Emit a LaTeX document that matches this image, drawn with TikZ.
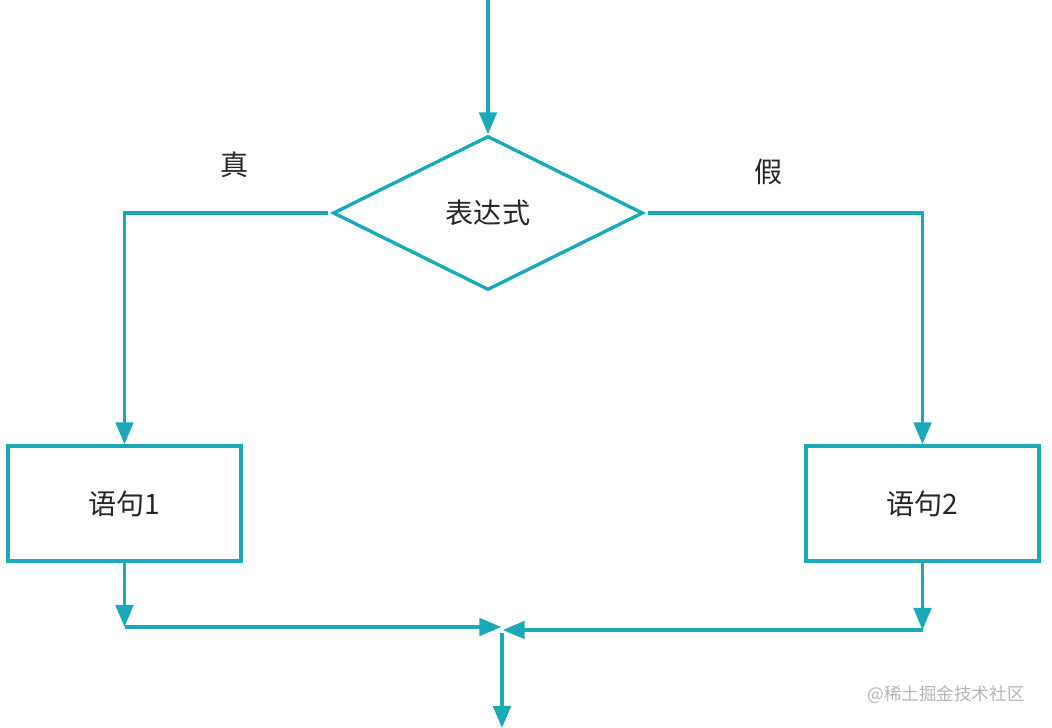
\documentclass[tikz,border=0pt]{standalone}
\usepackage{fontspec}
\setmainfont{Noto Sans CJK SC}
\definecolor{FlowTeal}{HTML}{19A9B8}
\definecolor{MarkGrey}{HTML}{B4B4B4}
\usetikzlibrary{arrows.meta, positioning, shapes.geometric}

\begin{document}
\begin{tikzpicture}[x=0.025cm, y=-0.025cm,
  >={Triangle[length=5.5mm, width=4.4mm]},
  line width=2.4pt, FlowTeal,
  cond/.style={draw, diamond, aspect=2, inner sep=0pt,
               minimum width=7.75cm, minimum height=3.85cm,
               font=\fontsize{20}{24}\selectfont, text=black!85},
  stmt/.style={draw, rectangle, minimum width=5.825cm, minimum height=2.875cm,
               font=\fontsize{20}{24}\selectfont, text=black!85},
  lbl/.style={font=\fontsize{20}{24}\selectfont, text=black!85}]
  \useasboundingbox (0,0) rectangle (1052,728);
  % decision and the two branches
  \coordinate (in) at (488, 0);
  \node[cond] (expr) at (488, 213) {表达式};
  \node[stmt] (s1) at (124.5, 503.5) {语句1};
  \node[stmt] (s2) at (922.5, 503.5) {语句2};
  \node[lbl] (yes) at (235, 165) {真};
  \node[lbl] (no) at (769, 172) {假};
  \draw[->] (in) -- (expr.north);
  \draw[->, shorten <=2pt] (expr.west) -| (s1.north);
  \draw[->, shorten <=2pt] (expr.east) -| (s2.north);
  % merge below the boxes
  \coordinate (j1) at (124.5, 627);
  \coordinate (j2) at (922.5, 630);
  \coordinate (m) at (502, 630);
  \coordinate (out) at (502, 728);
  \draw[->] (s1.south) -- (j1);
  \draw[->] (s2.south) -- (j2);
  \draw[->] (j1) -- ([xshift=-0.5pt]m |- j1);
  \draw[->] (j2) -- ([xshift=0.5pt]m);
  \draw[->] ([yshift=-2pt]m) -- (out);
  \node[font=\fontsize{12.5}{15}\selectfont, text=MarkGrey, anchor=east] (mark) at (1031, 695) {@稀土掘金技术社区};
\end{tikzpicture}
\end{document}
